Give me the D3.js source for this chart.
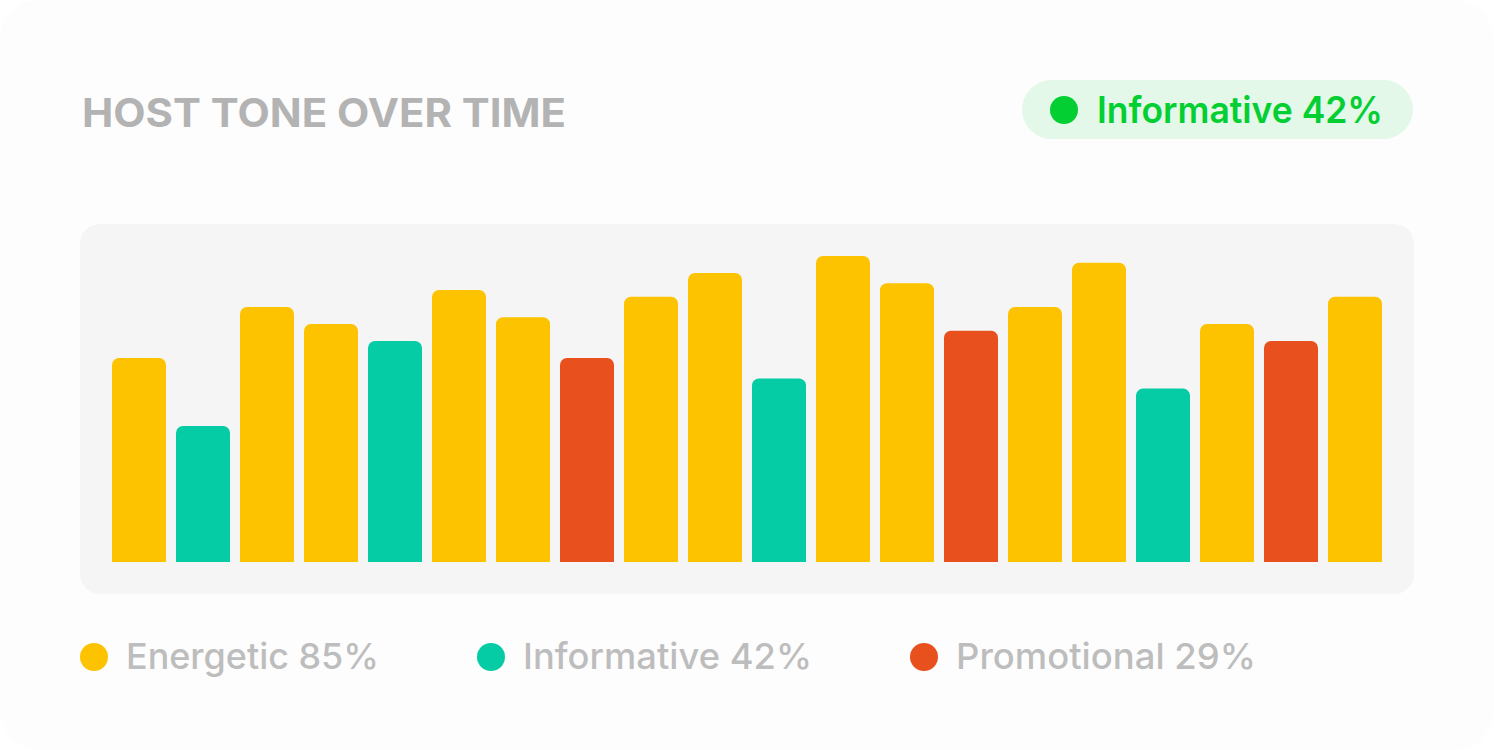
<!DOCTYPE html>
<html>
<head>
<meta charset="utf-8">
<script src="https://cdn.jsdelivr.net/npm/d3@7"></script>
<style>
  html, body { margin: 0; padding: 0; background: #ffffff; }
  svg { display: block; }
</style>
</head>
<body>
<svg id="chart" width="1494" height="750"></svg>
<script>
// ---- data ----
const categories = ["P1","P2","P3","P4","P5","P6","P7","P8","P9","P10","P11","P12","P13","P14","P15","P16","P17","P18","P19","P20"];
const values = [60, 40, 75, 70, 65, 80, 72, 60, 78, 85, 54, 90, 82, 68, 75, 88, 51, 70, 65, 78];
const tones = ["Energetic","Informative","Energetic","Energetic","Informative","Energetic","Energetic","Promotional","Energetic","Energetic","Informative","Energetic","Energetic","Promotional","Energetic","Energetic","Informative","Energetic","Promotional","Energetic"];
const seriesNames = ["Energetic", "Informative", "Promotional"];
const seriesShares = [85, 42, 29];
const titleText = "HOST TONE OVER TIME";
const badgeName = "Informative";
const badgeShare = 42;

// ---- styles / layout ----
const toneColor = d3.scaleOrdinal().domain(seriesNames).range(["#fdc300", "#05cca5", "#e8501e"]);
const FONT = "Inter, 'Open Sans', 'DejaVu Sans', sans-serif";

const svg = d3.select("#chart");

// card
svg.append("rect").attr("x", 0).attr("y", 0).attr("width", 1494).attr("height", 750)
  .attr("rx", 40).attr("fill", "#fdfdfd");

// title
svg.append("text").attr("x", 82).attr("y", 127)
  .attr("font-family", FONT).attr("font-weight", 700).attr("font-size", 39)
  .attr("fill", "#b3b3b3")
  .attr("textLength", 484).attr("lengthAdjust", "spacingAndGlyphs")
  .text(titleText);

// badge
const badge = svg.append("g");
badge.append("rect").attr("x", 1022).attr("y", 80).attr("width", 391).attr("height", 59)
  .attr("rx", 29.5).attr("fill", "#e3f8e9");
badge.append("circle").attr("cx", 1064).attr("cy", 110).attr("r", 14).attr("fill", "#03cf33");
badge.append("text").attr("x", 1097).attr("y", 123)
  .attr("font-family", FONT).attr("font-weight", 600).attr("font-size", 37)
  .attr("fill", "#03cf33")
  .attr("textLength", 286).attr("lengthAdjust", "spacingAndGlyphs")
  .text(`${badgeName} ${badgeShare}%`);

// plot panel
svg.append("rect").attr("x", 80).attr("y", 224).attr("width", 1334).attr("height", 370)
  .attr("rx", 20).attr("fill", "#f5f5f5");

// scales
const x = d3.scaleBand().domain(categories).range([112, 1382])
  .paddingInner(10 / 64).paddingOuter(0);
const y = d3.scaleLinear().domain([0, 90]).range([562, 256]);

function topRounded(x0, y0, w, h, r) {
  r = Math.min(r, h, w / 2);
  const p = d3.path();
  p.moveTo(x0, y0 + h);
  p.lineTo(x0, y0 + r);
  p.arcTo(x0, y0, x0 + r, y0, r);
  p.lineTo(x0 + w - r, y0);
  p.arcTo(x0 + w, y0, x0 + w, y0 + r, r);
  p.lineTo(x0 + w, y0 + h);
  p.closePath();
  return p.toString();
}

const rows = categories.map((c, i) => ({ cat: c, value: values[i], tone: tones[i] }));

svg.append("g").selectAll("path").data(rows).join("path")
  .attr("d", d => topRounded(x(d.cat), y(d.value), x.bandwidth(), y(0) - y(d.value), 7))
  .attr("fill", d => toneColor(d.tone));

// legend
const legendTextWidths = [253, 289, 300];
const legend = svg.append("g");
let cursor = 80;
seriesNames.forEach((name, i) => {
  const g = legend.append("g");
  g.append("circle").attr("cx", cursor + 14).attr("cy", 657).attr("r", 14).attr("fill", toneColor(name));
  g.append("text").attr("x", cursor + 46).attr("y", 669)
    .attr("font-family", FONT).attr("font-weight", 500).attr("font-size", 36)
    .attr("fill", "#bdbdbd")
    .attr("textLength", legendTextWidths[i]).attr("lengthAdjust", "spacingAndGlyphs")
    .text(`${name} ${seriesShares[i]}%`);
  cursor = cursor + 46 + legendTextWidths[i] + 98;
});
</script>
</body>
</html>
